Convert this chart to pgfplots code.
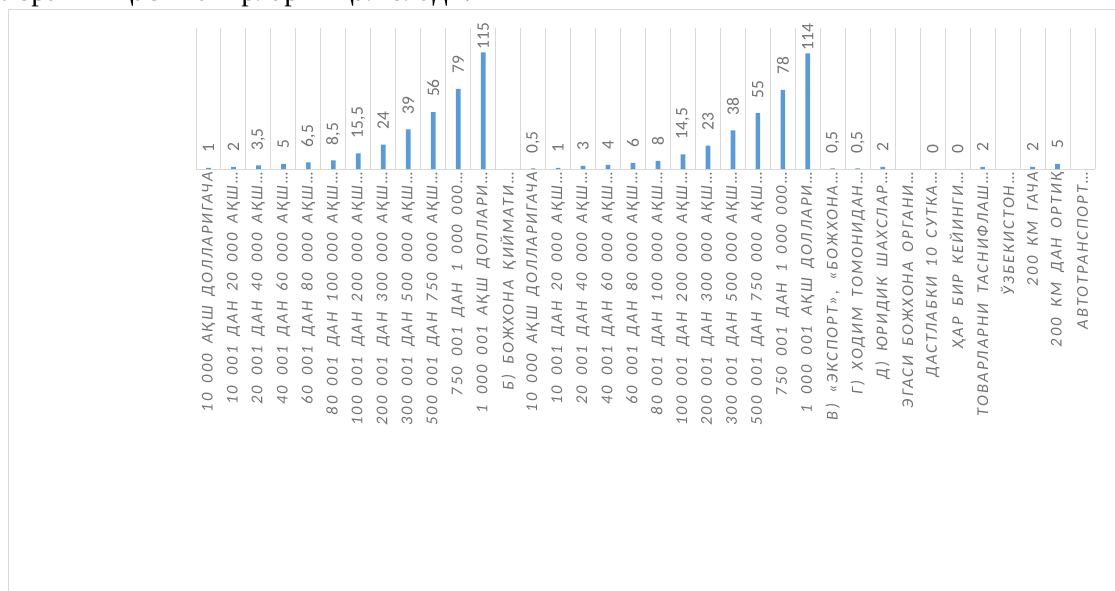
\documentclass[border=0pt]{standalone}
\usepackage{fontspec}
\usepackage{pgfplots}
\pgfplotsset{compat=1.18}
\setmainfont{Carlito}
\newfontfamily\lblfont[LetterSpace=13, WordSpace=1.7]{Carlito}
\newfontfamily\dlfont{Carlito}
\newfontfamily\toptext{Liberation Serif}
\definecolor{barblue}{HTML}{5B9BD5}
\definecolor{gridgray}{HTML}{D9D9D9}
\definecolor{txtgray}{HTML}{737373}

\begin{document}
\begin{tikzpicture}
\useasboundingbox (0pt,0pt) rectangle (1115pt,590pt);
\node[anchor=base west, inner sep=0pt, font=\toptext\fontsize{30}{34}\selectfont] at (-2pt,589.5pt) {Ўзрағиш қаси вахирларин қал оладн.};
\draw[gridgray, line width=1pt] (8pt,-5pt) -- (8pt,580pt) -- (1125pt,580pt);
\begin{axis}[
  at={(196pt,421pt)}, anchor=south west,
  scale only axis, width=899pt, height=141pt,
  xmin=-0.5, xmax=35.5, ymin=0, ymax=139,
  axis x line*=bottom, axis y line=none,
  x axis line style={draw=gridgray, line width=1pt, -},
  ytick=\empty,
  xtick={0,...,35},
  xticklabels={
    10 000 АҚШ ДОЛЛАРИГАЧА,
    10 001 ДАН 20 000 АҚШ…,
    20 001 ДАН 40 000 АҚШ…,
    40 001 ДАН 60 000 АҚШ…,
    60 001 ДАН 80 000 АҚШ…,
    80 001 ДАН 100 000 АҚШ…,
    100 001 ДАН 200 000 АҚШ…,
    200 001 ДАН 300 000 АҚШ…,
    300 001 ДАН 500 000 АҚШ…,
    500 001 ДАН 750 000 АҚШ…,
    750 001 ДАН 1 000 000…,
    1 000 001 АҚШ ДОЛЛАРИ…,
    Б) БОЖХОНА ҚИЙМАТИ…,
    10 000 АҚШ ДОЛЛАРИГАЧА,
    10 001 ДАН 20 000 АҚШ…,
    20 001 ДАН 40 000 АҚШ…,
    40 001 ДАН 60 000 АҚШ…,
    60 001 ДАН 80 000 АҚШ…,
    80 001 ДАН 100 000 АҚШ…,
    100 001 ДАН 200 000 АҚШ…,
    200 001 ДАН 300 000 АҚШ…,
    300 001 ДАН 500 000 АҚШ…,
    500 001 ДАН 750 000 АҚШ…,
    750 001 ДАН 1 000 000…,
    1 000 001 АҚШ ДОЛЛАРИ…,
    {В) «ЭКСПОРТ», «БОЖХОНА…},
    Г) ХОДИМ ТОМОНИДАН…,
    Д) ЮРИДИК ШАХСЛАР…,
    ЭГАСИ БОЖХОНА ОРГАНИ…,
    ДАСТЛАБКИ 10 СУТКА…,
    ҲАР БИР КЕЙИНГИ…,
    ТОВАРЛАРНИ ТАСНИФЛАШ…,
    ЎЗБЕКИСТОН…,
    200 КМ ГАЧА,
    200 КМ ДАН ОРТИҚ,
    АВТОТРАНСПОРТ…},
  major tick length=0pt,
  minor xtick={-0.5,0.5,...,35.5},
  minor tick length=0pt,
  xminorgrids=true,
  minor grid style={draw=gridgray, line width=1pt},
  xticklabel style={rotate=90, anchor=east, inner sep=0pt,
    font=\lblfont\itshape\fontsize{16.5}{19}\selectfont, text=txtgray},
  xticklabel shift=3pt,
  ybar, bar width=4.7pt,
  nodes near coords,
  nodes near coords style={rotate=90, anchor=west,
    font=\dlfont\fontsize{17.5}{20}\selectfont, text=txtgray,
    inner xsep=15pt, inner ysep=0pt,
    /pgf/number format/use comma, /pgf/number format/assume math mode=true},
  clip=false,
]
\addplot[bar shift=0pt, fill=barblue, draw=none] coordinates {
  (0,1) (1,2) (2,3.5) (3,5) (4,6.5) (5,8.5) (6,15.5) (7,24) (8,39) (9,56) (10,79)
  (13,0.5) (14,1) (15,3) (16,4) (17,6) (18,8) (19,14.5) (20,23) (21,38) (22,55) (23,78)
  (25,0.5) (26,0.5) (27,2) (29,0) (30,0) (31,2) (33,2) (34,5)
};
\addplot[bar shift=0pt, fill=barblue, draw=none,
  nodes near coords style={inner xsep=3pt}] coordinates {
  (11,115) (24,114)
};
\end{axis}
\end{tikzpicture}
\end{document}
